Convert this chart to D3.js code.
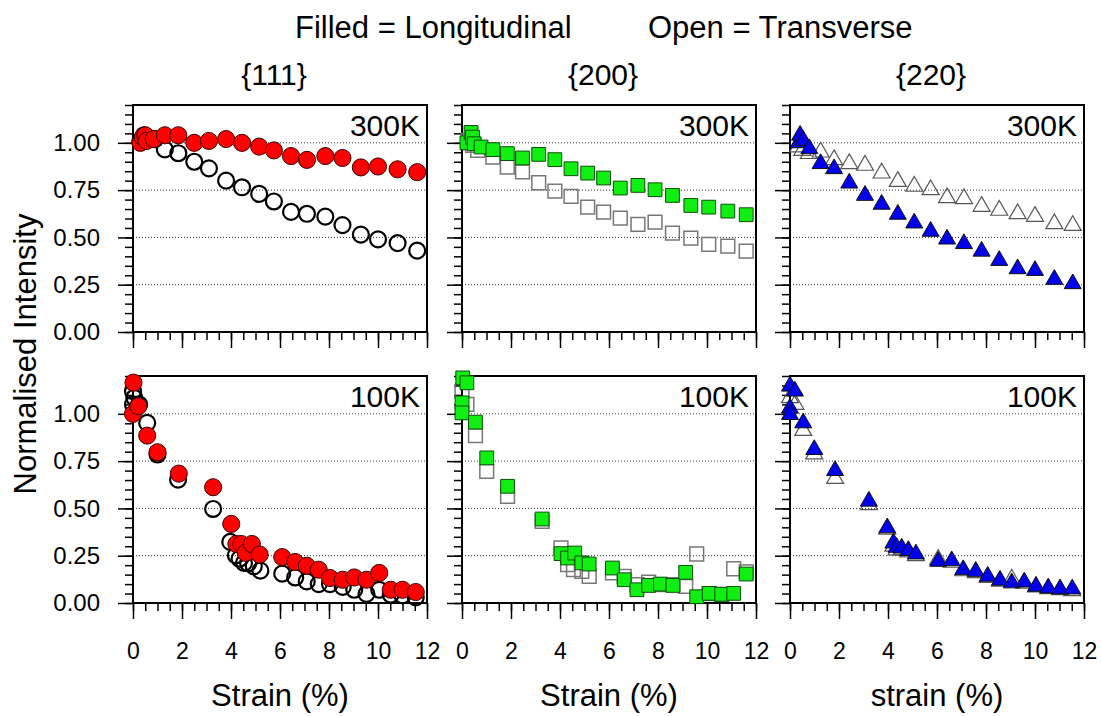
<!DOCTYPE html>
<html>
<head>
<meta charset="utf-8">
<script src="https://cdn.jsdelivr.net/npm/d3@7"></script>
<style>
  body { margin: 0; background: #fff; }
  text { font-family: "Liberation Sans", Arial, sans-serif; fill: #000; }
</style>
</head>
<body>
<script>
// Data: [strain %, normalised intensity]
const reflections = ["{111}", "{200}", "{220}"];
const temperatures = ["300K", "100K"];
const xLabels = ["Strain (%)", "Strain (%)", "strain (%)"];
const xTicks = [0, 2, 4, 6, 8, 10, 12];
const yTicks = [0, 0.25, 0.5, 0.75, 1.0];

// {111}, 300K
const l111_300 = [[0.3,1.00],[0.4,1.03],[0.5,1.04],[0.55,1.01],[0.85,1.02],[1.3,1.04],[1.85,1.04],[2.5,1.00],[3.1,1.01],[3.8,1.02],[4.45,1.00],[5.15,0.98],[5.75,0.96],[6.45,0.93],[7.1,0.91],[7.85,0.93],[8.55,0.92],[9.3,0.87],[10.0,0.875],[10.8,0.86],[11.6,0.845]];
const t111_300 = [[0.3,1.01],[0.45,1.04],[0.6,1.02],[0.9,1.02],[1.3,0.965],[1.85,0.945],[2.5,0.90],[3.1,0.865],[3.8,0.80],[4.45,0.765],[5.15,0.73],[5.75,0.69],[6.45,0.635],[7.1,0.625],[7.85,0.61],[8.55,0.565],[9.3,0.515],[10.0,0.49],[10.8,0.47],[11.6,0.43]];
// {200}, 300K
const l200_300 = [[0.2,1.00],[0.37,1.055],[0.43,1.03],[0.5,0.995],[0.78,0.978],[1.26,0.964],[1.85,0.943],[2.47,0.92],[3.13,0.939],[3.79,0.911],[4.45,0.863],[5.13,0.84],[5.78,0.814],[6.46,0.761],[7.18,0.775],[7.88,0.752],[8.59,0.722],[9.34,0.669],[10.07,0.66],[10.85,0.639],[11.6,0.62]];
const t200_300 = [[0.27,1.013],[0.43,0.987],[0.64,0.96],[1.26,0.925],[1.85,0.872],[2.47,0.846],[3.13,0.789],[3.79,0.745],[4.45,0.717],[5.13,0.66],[5.78,0.634],[6.46,0.602],[7.18,0.569],[7.88,0.581],[8.59,0.523],[9.34,0.496],[10.07,0.463],[10.85,0.454],[11.6,0.427]];
// {220}, 300K
const l220_300 = [[0.35,1.0],[0.41,1.04],[0.54,1.013],[0.79,0.969],[1.25,0.89],[1.8,0.863],[2.42,0.787],[3.06,0.722],[3.74,0.675],[4.4,0.622],[5.07,0.576],[5.74,0.532],[6.41,0.491],[7.1,0.467],[7.82,0.427],[8.54,0.378],[9.29,0.334],[10.0,0.325],[10.79,0.278],[11.54,0.255]];
const t220_300 = [[0.33,0.978],[0.5,0.96],[0.77,0.943],[1.25,0.951],[1.8,0.911],[2.42,0.89],[3.06,0.881],[3.74,0.84],[4.4,0.796],[5.07,0.77],[5.74,0.752],[6.41,0.71],[7.1,0.705],[7.82,0.664],[8.54,0.643],[9.29,0.625],[10.0,0.611],[10.79,0.572],[11.54,0.563]];
// {111}, 100K
const l111_100 = [[0.0,1.0],[0.02,1.165],[0.22,1.04],[0.58,0.885],[1.0,0.797],[1.87,0.684],[3.27,0.612],[4.01,0.418],[4.22,0.312],[4.42,0.312],[4.6,0.265],[4.85,0.312],[5.17,0.256],[6.09,0.243],[6.62,0.217],[7.09,0.197],[7.58,0.176],[8.04,0.132],[8.56,0.123],[9.03,0.135],[9.53,0.123],[10.05,0.159],[10.52,0.07],[11.0,0.07],[11.54,0.058]];
const t111_100 = [[0.0,1.05],[0.0,1.12],[0.05,1.085],[0.25,1.05],[0.58,0.952],[1.0,0.785],[1.84,0.652],[3.27,0.497],[3.97,0.323],[4.2,0.252],[4.35,0.234],[4.53,0.212],[4.7,0.21],[4.93,0.194],[5.2,0.171],[6.09,0.155],[6.62,0.135],[7.09,0.114],[7.58,0.1],[8.04,0.1],[8.56,0.085],[9.03,0.07],[9.53,0.048],[10.05,0.07],[10.52,0.044],[11.0,0.04],[11.54,0.03]];
// {200}, 100K
const l200_100 = [[0.03,1.19],[0.2,1.164],[0.0,1.058],[0.0,1.005],[0.55,0.956],[1.01,0.767],[1.86,0.617],[3.27,0.444],[4.04,0.261],[4.31,0.238],[4.6,0.264],[4.89,0.212],[5.19,0.206],[6.14,0.185],[6.62,0.123],[7.14,0.07],[7.62,0.093],[8.1,0.1],[8.61,0.093],[9.13,0.162],[9.58,0.033],[10.09,0.051],[10.6,0.046],[11.09,0.051],[11.6,0.153]];
const t200_100 = [[0.0,1.12],[0.2,1.05],[0.55,0.885],[1.01,0.696],[1.86,0.564],[3.27,0.432],[4.04,0.291],[4.31,0.203],[4.55,0.176],[4.89,0.167],[5.19,0.141],[6.14,0.159],[6.62,0.14],[7.14,0.097],[7.62,0.11],[8.1,0.097],[8.61,0.097],[9.13,0.088],[9.58,0.259],[10.09,0.05],[10.6,0.046],[11.09,0.181],[11.6,0.164]];
// {220}, 100K
const l220_100 = [[0.0,1.146],[0.2,1.12],[0.0,1.03],[0.0,0.996],[0.54,0.952],[0.99,0.811],[1.84,0.7],[3.22,0.538],[3.97,0.397],[4.22,0.317],[4.35,0.294],[4.56,0.29],[4.83,0.277],[5.14,0.259],[6.05,0.22],[6.6,0.223],[7.07,0.176],[7.58,0.167],[8.07,0.141],[8.57,0.12],[9.05,0.106],[9.56,0.111],[10.04,0.088],[10.54,0.079],[11.02,0.074],[11.52,0.074]];
const t220_100 = [[0.0,1.085],[0.22,1.05],[0.54,0.912],[0.99,0.788],[1.84,0.658],[3.22,0.52],[3.97,0.39],[4.22,0.30],[4.35,0.28],[4.56,0.28],[4.83,0.27],[5.14,0.25],[6.05,0.23],[6.6,0.215],[7.07,0.17],[7.58,0.16],[8.07,0.135],[8.57,0.115],[9.05,0.125],[9.56,0.105],[10.04,0.085],[10.54,0.075],[11.02,0.07],[11.52,0.065]];

const longitudinal = [[l111_300, l200_300, l220_300], [l111_100, l200_100, l220_100]];
const transverse = [[t111_300, t200_300, t220_300], [t111_100, t200_100, t220_100]];

// marker styles per column
const filledStyle = [
  { type: d3.symbolCircle, size: 230, fill: "#ff0000", stroke: "#3a0000", sw: 1 },
  { type: d3.symbolSquare, size: 190, fill: "#11ee11", stroke: "#0b4d0b", sw: 1 },
  { type: d3.symbolTriangle, size: 125, fill: "#0000ee", stroke: "#111", sw: 1 }
];
const openStyle = [
  { type: d3.symbolCircle, size: 200, fill: "none", stroke: "#000", sw: 2.2 },
  { type: d3.symbolSquare, size: 190, fill: "none", stroke: "#777", sw: 1.5 },
  { type: d3.symbolTriangle, size: 125, fill: "none", stroke: "#555", sw: 1.2 }
];

// layout
const lefts = [133, 462, 790];
const tops = [105, 376];
const pw = 294, ph = 227;

const svg = d3.select("body").append("svg")
  .attr("width", 1101)
  .attr("height", 716);

svg.append("text").attr("x", 295).attr("y", 38)
  .style("font-size", "31px").text("Filled = Longitudinal");
svg.append("text").attr("x", 648).attr("y", 38)
  .style("font-size", "31px").text("Open = Transverse");

svg.append("text")
  .attr("transform", `translate(36, ${(tops[0] + tops[1] + ph) / 2}) rotate(-90)`)
  .attr("text-anchor", "middle")
  .style("font-size", "31px")
  .text("Normalised Intensity");

function drawMarks(g, data, st, x, y) {
  g.selectAll(null)
    .data(data)
    .enter()
    .append("path")
    .attr("d", d3.symbol().type(st.type).size(st.size))
    .attr("transform", d => `translate(${x(d[0])}, ${y(d[1])})`)
    .attr("fill", st.fill)
    .attr("stroke", st.stroke)
    .attr("stroke-width", st.sw);
}

for (let r = 0; r < 2; r++) {
  for (let c = 0; c < 3; c++) {
    let x = d3.scaleLinear().domain([0, 12]).range([lefts[c], lefts[c] + pw]);
    let y = d3.scaleLinear().domain([0, 1.2]).range([tops[r] + ph, tops[r]]);
    let g = svg.append("g");

    if (r === 0) {
      svg.append("text")
        .attr("x", lefts[c] + pw / 2 - 6)
        .attr("y", 85)
        .attr("text-anchor", "middle")
        .style("font-size", "30px")
        .text(reflections[c]);
    }

    // gridlines
    g.selectAll(null)
      .data(yTicks.filter(v => v > 0))
      .enter()
      .append("line")
      .attr("x1", x(0)).attr("x2", x(12))
      .attr("y1", d => y(d)).attr("y2", d => y(d))
      .attr("stroke", "#333")
      .attr("stroke-width", 1)
      .attr("stroke-dasharray", "1,2");

    // minor + major ticks
    let xMinor = g.append("g")
      .attr("transform", `translate(0, ${tops[r] + ph})`)
      .call(d3.axisBottom(x).tickValues(d3.range(0, 12.001, 0.5)).tickSize(8).tickFormat(""));
    let xMajor = g.append("g")
      .attr("transform", `translate(0, ${tops[r] + ph})`)
      .call(d3.axisBottom(x).tickValues(xTicks).tickSize(16).tickPadding(24)
        .tickFormat(r === 1 ? d3.format("d") : ""));
    let yMinor = g.append("g")
      .attr("transform", `translate(${lefts[c]}, 0)`)
      .call(d3.axisLeft(y).tickValues(d3.range(0, 1.2001, 0.05)).tickSize(8).tickFormat(""));
    let yMajor = g.append("g")
      .attr("transform", `translate(${lefts[c]}, 0)`)
      .call(d3.axisLeft(y).tickValues(yTicks).tickSize(15).tickPadding(18)
        .tickFormat(c === 0 ? d3.format(".2f") : ""));

    [xMinor, xMajor, yMinor, yMajor].forEach(a => {
      a.select(".domain").remove();
      a.selectAll(".tick line").attr("stroke", "#000").attr("stroke-width", 1.5);
      a.selectAll(".tick text").style("font-size", "24px").attr("font-family", null);
    });
    xMajor.selectAll(".tick text").style("font-size", "23px");

    // frame
    g.append("rect")
      .attr("x", lefts[c]).attr("y", tops[r])
      .attr("width", pw).attr("height", ph)
      .attr("fill", "none")
      .attr("stroke", "#000")
      .attr("stroke-width", 2);

    svg.append("text")
      .attr("x", lefts[c] + pw - 7)
      .attr("y", tops[r] + 31)
      .attr("text-anchor", "end")
      .style("font-size", "30px")
      .text(temperatures[r]);

    drawMarks(g, transverse[r][c], openStyle[c], x, y);
    drawMarks(g, longitudinal[r][c], filledStyle[c], x, y);

    if (r === 1) {
      svg.append("text")
        .attr("x", lefts[c] + pw / 2)
        .attr("y", 706)
        .attr("text-anchor", "middle")
        .style("font-size", "31px")
        .text(xLabels[c]);
    }
  }
}
</script>
</body>
</html>
